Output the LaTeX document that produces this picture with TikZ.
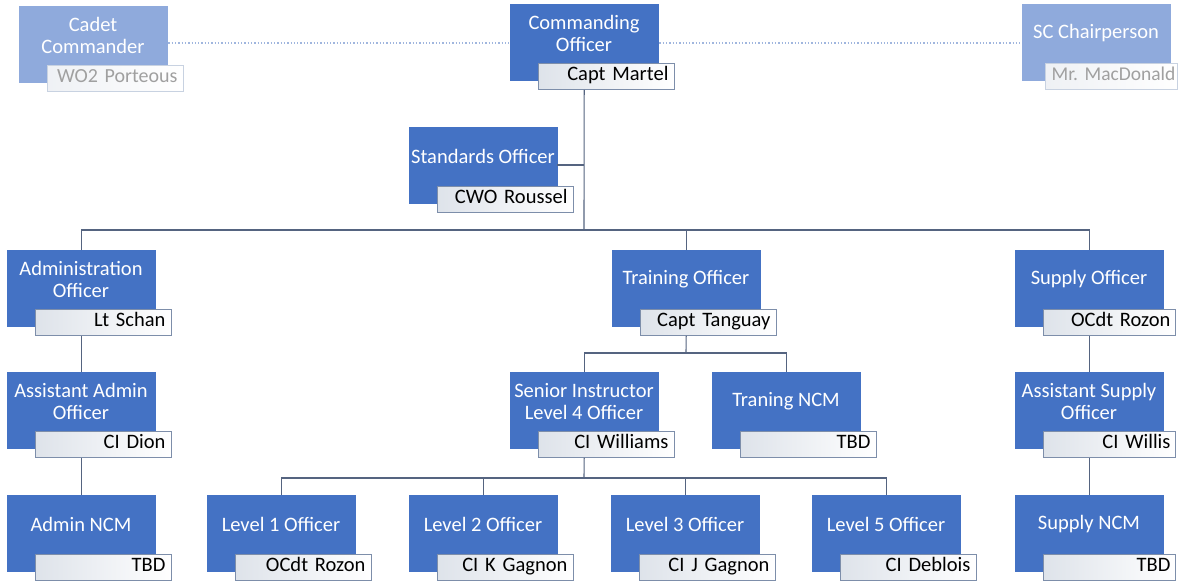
\documentclass[tikz,border=0pt]{standalone}
\usepackage{fontspec}
\setmainfont{Carlito}
\frenchspacing
\usetikzlibrary{calc}
\definecolor{obblue}{RGB}{68,114,196}
\definecolor{oblight}{RGB}{143,170,220}
\definecolor{nborder}{RGB}{125,142,170}
\definecolor{nborderl}{RGB}{200,210,225}
\definecolor{lnk}{RGB}{85,100,128}
\definecolor{dotc}{RGB}{160,182,222}
\definecolor{greytxt}{RGB}{160,160,160}
\definecolor{nshade}{RGB}{222,227,234}
\tikzset{
  bluedark/.style={draw=obblue,fill=obblue,minimum width=148,minimum height=76,inner sep=0,anchor=north west},
  bluelight/.style={draw=oblight,fill=oblight,minimum width=148,minimum height=76,inner sep=0,anchor=north west},
  titletext/.style={text=white,align=center,inner sep=0,font=\fontsize{20.5}{22}\selectfont},
  namedark/.style={draw=nborder,line width=0.9pt,left color=nshade,right color=white,minimum height=26,text width=124,inner xsep=6,inner ysep=0,align=right,anchor=north west,text=black,font=\fontsize{20.5}{22}\selectfont},
  namelight/.style={draw=nborderl,line width=0.9pt,left color=nshade!50,right color=white,minimum height=26,text width=124,inner xsep=6,inner ysep=0,align=right,anchor=north west,text=greytxt,font=\fontsize{20}{22}\selectfont},
  link/.style={draw=lnk,line width=1.1pt},
  dotlink/.style={draw=dotc,line width=1.3pt,dotted}
}
\newcommand{\obox}[7]{%
  \node[blue#6] (#1) at (#2,#3) {};
  \node[titletext] (#1-t) at ($(#1.north west)+(74,29.5)$) {#4};
  \node[name#6,#7] (#1-n) at ($(#1.north west)+(28,59)$) {\strut#5};
}
\begin{document}
\begin{tikzpicture}[x=1pt,y=-1pt]
\useasboundingbox (0,0) rectangle (1178,583);
\fill[white] (0,0) rectangle (1178,583);
% top row
\obox{cadet}{19}{6}{Cadet\\Commander}{WO2 Porteous}{light}{}
\obox{co}{510}{4}{Commanding\\Officer}{Capt Martel}{dark}{}
\obox{sc}{1022}{4}{SC\ Chairperson}{Mr. MacDonald}{light}{xshift=-5pt,text width=128,inner xsep=2,font=\fontsize{19.5}{22}\selectfont}
\obox{std}{409}{127}{Standards Officer}{CWO Roussel}{dark}{}
% second row
\obox{adm}{7}{250}{Administration\\Officer}{Lt Schan}{dark}{}
\obox{trn}{612}{250}{Training Officer}{Capt Tanguay}{dark}{}
\obox{sup}{1015}{250}{Supply Officer}{OCdt Rozon}{dark}{text width=122,inner xsep=5}
% third row
\obox{aadm}{7}{372}{Assistant Admin\\Officer}{CI Dion}{dark}{}
\obox{si}{510}{372}{Senior Instructor\\Level 4 Officer}{CI Williams}{dark}{}
\obox{tncm}{712}{372}{Traning NCM}{TBD}{dark}{}
\obox{asup}{1015}{372}{Assistant Supply\\Officer}{CI Willis}{dark}{text width=122,inner xsep=5}
% fourth row
\obox{ancm}{7}{495}{Admin NCM}{TBD}{dark}{}
\obox{l1}{207}{495}{Level 1 Officer}{OCdt Rozon}{dark}{}
\obox{l2}{409}{495}{Level 2 Officer}{CI K Gagnon}{dark}{}
\obox{l3}{611}{495}{Level 3 Officer}{CI J Gagnon}{dark}{}
\obox{l5}{812}{495}{Level 5 Officer}{CI Deblois}{dark}{}
\obox{sncm}{1015}{495}{Supply NCM}{TBD}{dark}{text width=122,inner xsep=5}
% dotted links
\draw[dotlink] ($(cadet.north east)+(1,37)$) -- ($(co.north west)+(-1,39)$);
\draw[dotlink] ($(co.north east)+(1,39)$) -- ($(sc.north west)+(-1,39)$);
% bus coordinates
\coordinate (b1) at (584,230);
\coordinate (b2) at (686,353);
\coordinate (b3) at (584,478);
% CO to level 2
\draw[link] (co-n.south -| co.north) -- (b1);
\draw[link] (std.east |- 0,165) -- (584,165);
\draw[link] (adm.north) -- (adm.north |- b1) -- (sup.north |- b1) -- (sup.north);
\draw[link] (trn.north) -- (trn.north |- b1);
% admin column
\draw[link] (adm-n.south -| adm.north) -- (aadm.north);
\draw[link] (aadm-n.south -| aadm.north) -- (ancm.north);
% supply column
\draw[link] (sup-n.south -| sup.north) -- (asup.north);
\draw[link] (asup-n.south -| asup.north) -- (sncm.north);
% training
\draw[link] (trn-n.south -| trn.north) -- (b2);
\draw[link] (si.north) -- (si.north |- b2) -- (tncm.north |- b2) -- (tncm.north);
% senior instructor
\draw[link] (si-n.south -| si.north) -- (b3);
\draw[link] (l1.north) -- (l1.north |- b3) -- (l5.north |- b3) -- (l5.north);
\draw[link] (l2.north) -- (l2.north |- b3);
\draw[link] (l3.north) -- (l3.north |- b3);
\end{tikzpicture}
\end{document}
